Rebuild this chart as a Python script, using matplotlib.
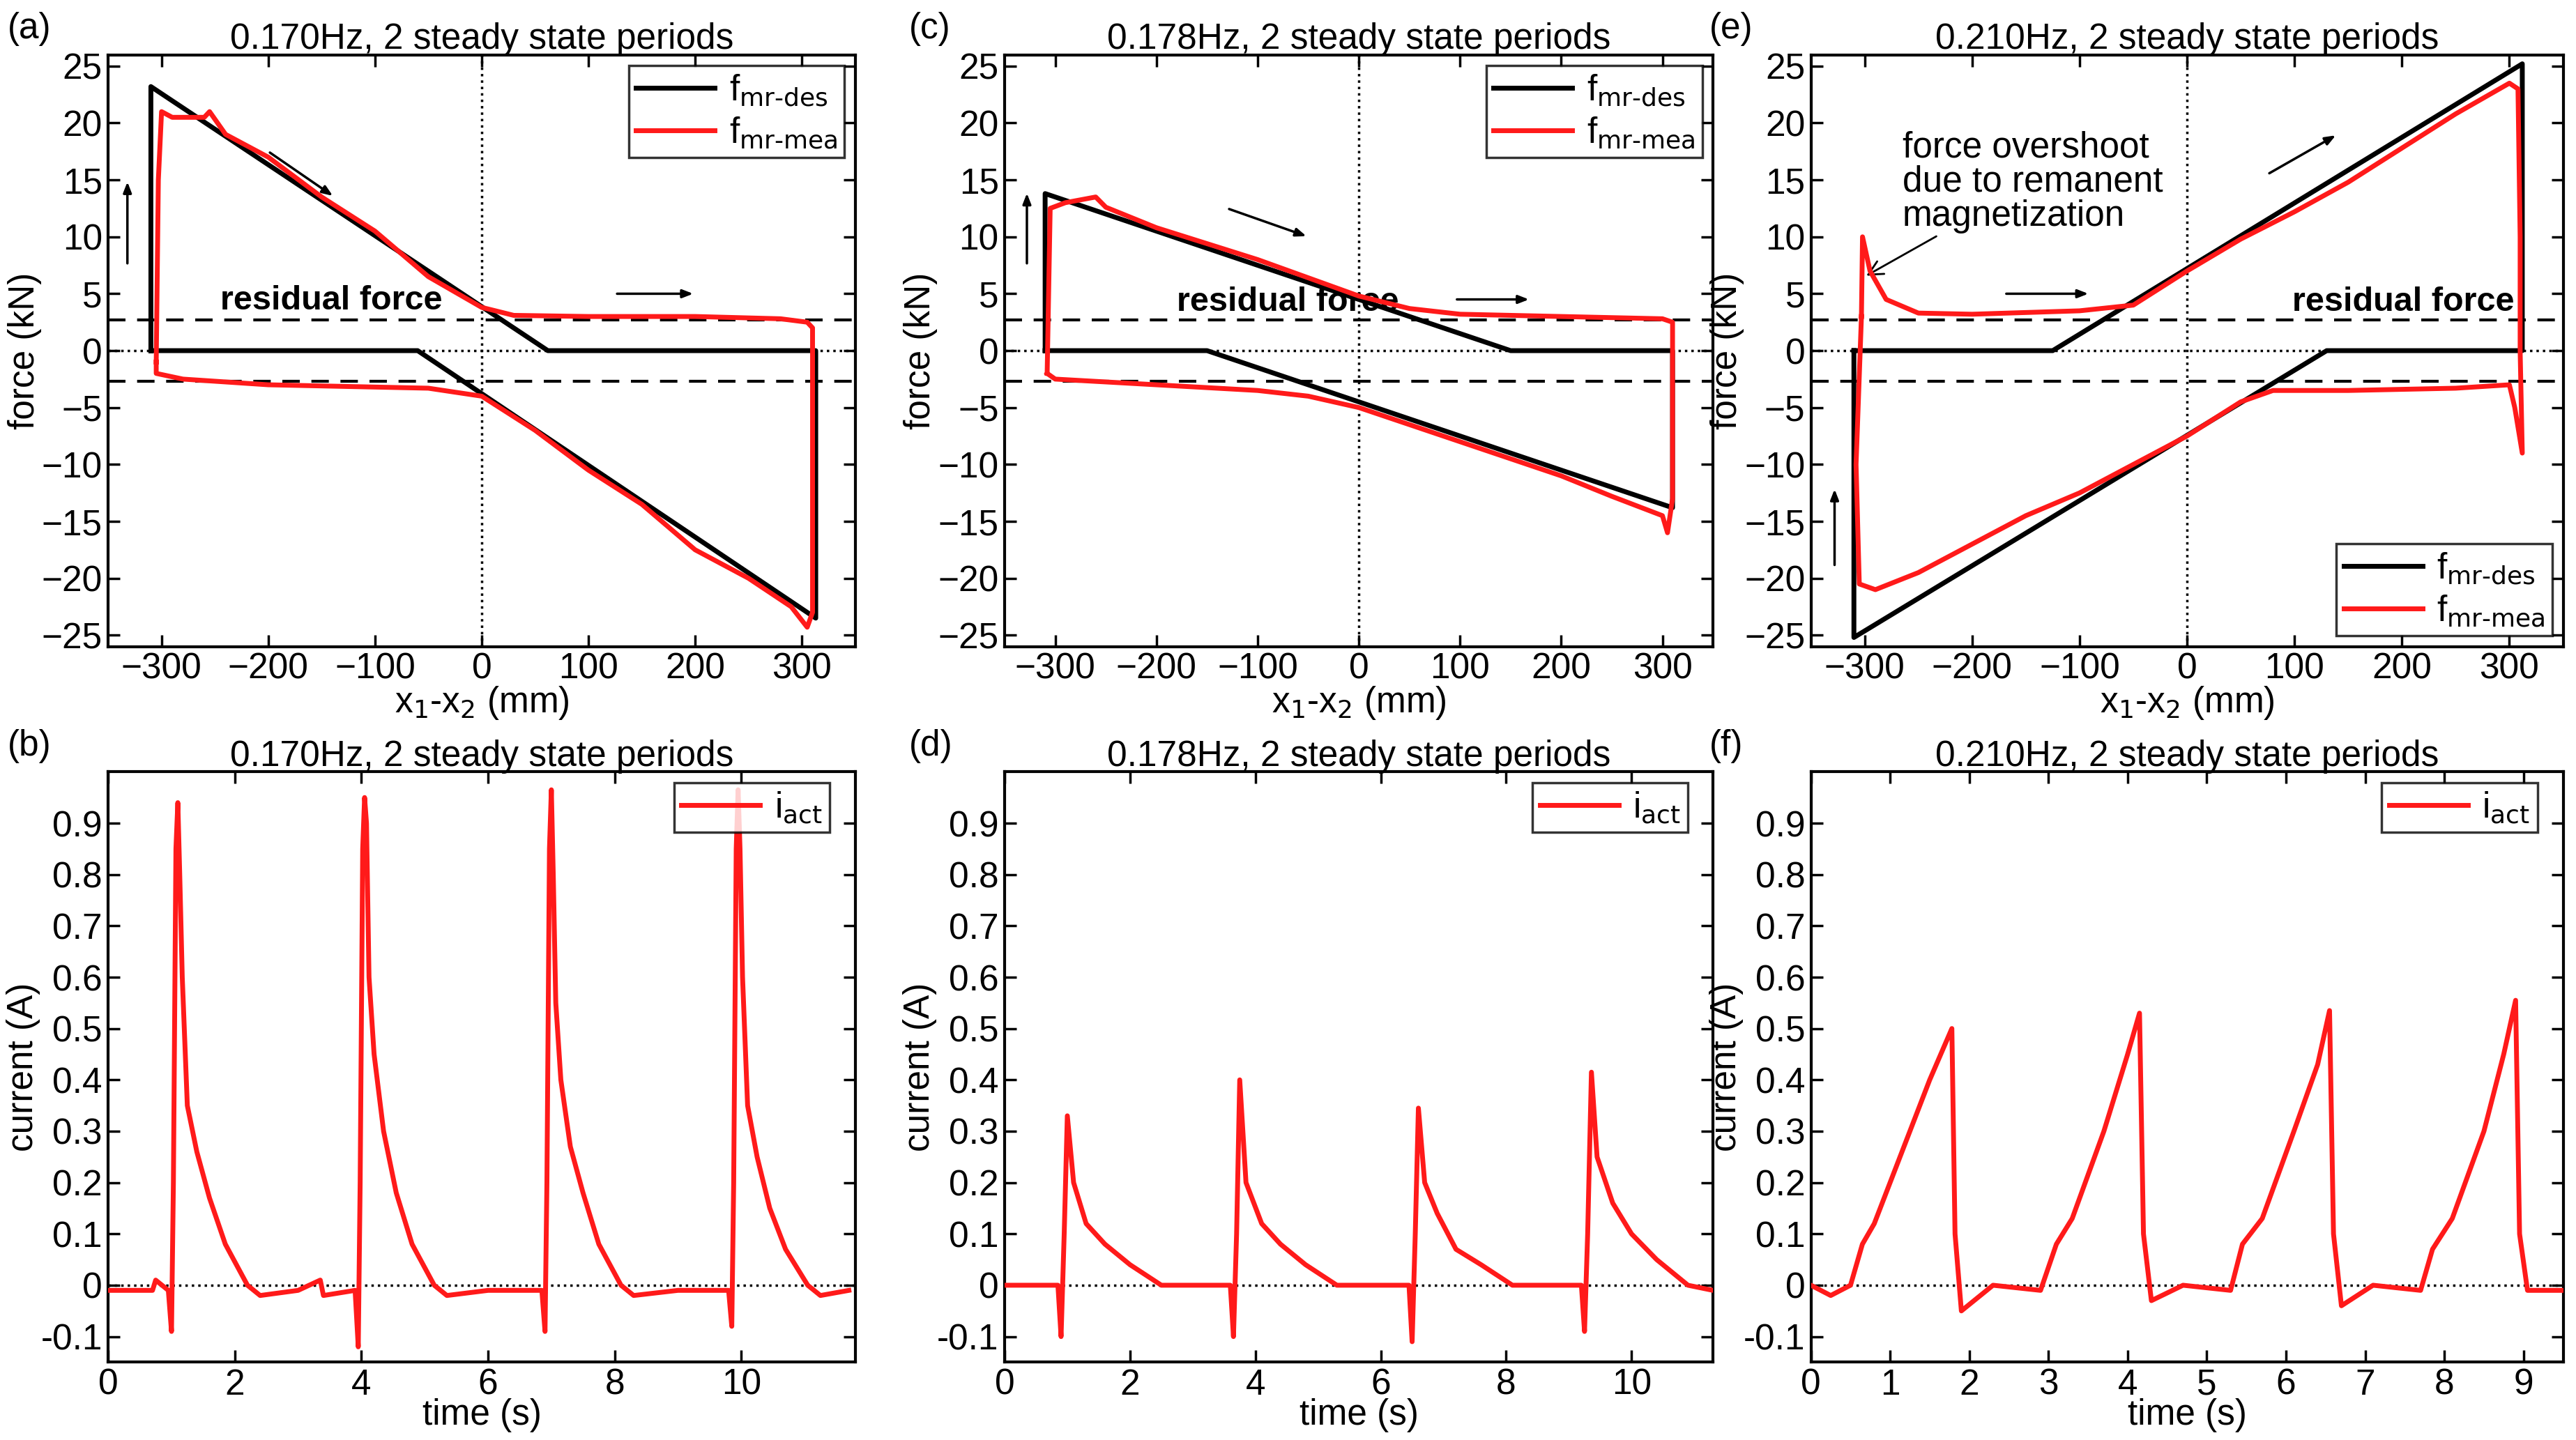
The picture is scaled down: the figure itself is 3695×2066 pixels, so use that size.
import matplotlib
matplotlib.use("Agg")
import matplotlib.pyplot as plt
import numpy as np

plt.rcParams['font.family'] = ['Liberation Sans', 'DejaVu Sans']

# ---------------- data ----------------
titles_top = ["0.170Hz, 2 steady state periods", "0.178Hz, 2 steady state periods", "0.210Hz, 2 steady state periods"]
labels_top = ["(a)", "(c)", "(e)"]
labels_bot = ["(b)", "(d)", "(f)"]

a_des_x = [-310, -310, 62, 313, 313, 313, -60, -310]
a_des_f = [0, 23.2, 0, 0, 0, -23.5, 0, 0]
a_mea_x = [-305, -303, -300, -290, -260, -255, -240, -200, -150, -100, -50, 0, 30, 100, 200, 280, 305, 310, 310, 305, 290, 250, 200, 150, 100, 50, 0, -50, -100, -200, -280, -305, -305]
a_mea_f = [-1, 15, 21, 20.5, 20.5, 21, 19, 17, 13.5, 10.5, 6.5, 3.8, 3.1, 3.0, 3.0, 2.8, 2.5, 2.0, -23, -24.3, -22.5, -20, -17.5, -13.5, -10.5, -7, -4, -3.3, -3.2, -3.0, -2.5, -2, -1]

c_des_x = [-310, -310, 150, 310, 310, -150, -310]
c_des_f = [0, 13.8, 0, 0, -13.8, 0, 0]
c_mea_x = [-308, -305, -290, -260, -250, -200, -100, 0, 50, 100, 200, 300, 310, 310, 305, 300, 250, 200, 100, 0, -50, -100, -200, -300, -308]
c_mea_f = [-2, 12.5, 13, 13.5, 12.6, 10.8, 8.0, 4.8, 3.7, 3.2, 3.0, 2.8, 2.5, -13, -16, -14.5, -12.8, -11.0, -8.0, -5, -4, -3.5, -3, -2.5, -2]

e_des_x = [-310, -125, 312, 312, 130, -310, -310]
e_des_f = [0, 0, 25.2, 0, 0, -25.2, 0]
e_mea_x = [-303, -302, -295, -280, -250, -200, -100, -50, 0, 50, 100, 150, 200, 250, 300, 308, 310, 310, 312, 305, 300, 250, 150, 80, 50, 0, -50, -100, -150, -200, -250, -290, -305, -308, -303]
e_mea_f = [3, 10, 7, 4.5, 3.3, 3.2, 3.5, 4, 7, 9.8, 12.2, 14.8, 17.8, 20.8, 23.5, 23, 10, 0, -9, -5, -3, -3.3, -3.5, -3.5, -4.5, -7.5, -10, -12.5, -14.5, -17, -19.5, -21, -20.5, -10, 3]

b_t = [0, 0.7, 0.75, 0.95, 1.0, 1.03, 1.07, 1.1, 1.13, 1.17, 1.25, 1.4, 1.6, 1.85, 2.2, 2.4, 3.0, 3.35, 3.4, 3.9, 3.95, 3.98, 4.02, 4.05, 4.08, 4.12, 4.2, 4.35, 4.55, 4.8, 5.15, 5.35, 6.0, 6.85, 6.9, 6.93, 6.97, 7.0, 7.03, 7.07, 7.15, 7.3, 7.5, 7.75, 8.1, 8.3, 9.0, 9.8, 9.85, 9.88, 9.92, 9.95, 9.98, 10.02, 10.1, 10.25, 10.45, 10.7, 11.05, 11.25, 11.7]
b_i = [-0.01, -0.01, 0.01, -0.01, -0.09, 0.2, 0.85, 0.94, 0.8, 0.6, 0.35, 0.26, 0.17, 0.08, 0.0, -0.02, -0.01, 0.01, -0.02, -0.01, -0.12, 0.2, 0.85, 0.95, 0.9, 0.6, 0.45, 0.3, 0.18, 0.08, 0.0, -0.02, -0.01, -0.01, -0.09, 0.2, 0.85, 0.965, 0.8, 0.55, 0.4, 0.27, 0.18, 0.08, 0.0, -0.02, -0.01, -0.01, -0.08, 0.2, 0.85, 0.965, 0.85, 0.6, 0.35, 0.25, 0.15, 0.07, 0.0, -0.02, -0.01]

d_t = [0, 0.85, 0.9, 0.95, 1.0, 1.1, 1.3, 1.6, 2.0, 2.5, 3.6, 3.65, 3.7, 3.75, 3.85, 4.1, 4.4, 4.8, 5.3, 6.45, 6.5, 6.55, 6.6, 6.7, 6.9, 7.2, 7.6, 8.1, 9.2, 9.25, 9.3, 9.36, 9.45, 9.7, 10.0, 10.4, 10.9, 11.3]
d_i = [0, 0, -0.1, 0.1, 0.33, 0.2, 0.12, 0.08, 0.04, 0.0, 0, -0.1, 0.1, 0.40, 0.2, 0.12, 0.08, 0.04, 0.0, 0, -0.11, 0.1, 0.345, 0.2, 0.14, 0.07, 0.04, 0.0, 0, -0.09, 0.1, 0.415, 0.25, 0.16, 0.1, 0.05, 0.0, -0.01]

f_t = [0, 0.25, 0.5, 0.65, 0.8, 1.2, 1.5, 1.78, 1.82, 1.9, 2.3, 2.9, 3.1, 3.3, 3.7, 4.0, 4.15, 4.2, 4.3, 4.7, 5.3, 5.45, 5.7, 6.1, 6.4, 6.55, 6.6, 6.7, 7.1, 7.7, 7.85, 8.1, 8.5, 8.75, 8.9, 8.95, 9.05, 9.5]
f_i = [0, -0.02, 0, 0.08, 0.12, 0.28, 0.4, 0.5, 0.1, -0.05, 0, -0.01, 0.08, 0.13, 0.3, 0.45, 0.53, 0.1, -0.03, 0, -0.01, 0.08, 0.13, 0.3, 0.43, 0.535, 0.1, -0.04, 0, -0.01, 0.07, 0.13, 0.3, 0.45, 0.555, 0.1, -0.01, -0.01]

# ---------------- figure ----------------
fig = plt.figure(figsize=(36.95, 20.66), dpi=100)
lefts = [0.042, 0.390, 0.703]
rights = [0.332, 0.665, 0.995]
FS = 37
LW = 5

top_data = [(a_des_x, a_des_f, a_mea_x, a_mea_f), (c_des_x, c_des_f, c_mea_x, c_mea_f), (e_des_x, e_des_f, e_mea_x, e_mea_f)]
bot_data = [(b_t, b_i, 11.8), (d_t, d_i, 11.3), (f_t, f_i, 9.5)]
bot_xt = [[0, 2, 4, 6, 8, 10], [0, 2, 4, 6, 8, 10], list(range(10))]

def style(ax):
    for s in ax.spines.values():
        s.set_linewidth(3)
    ax.tick_params(direction='in', length=12, width=2.5, labelsize=FS, top=True, right=True, pad=6)

for k in range(3):
    ax = fig.add_axes([lefts[k], 0.551, rights[k] - lefts[k], 0.411])
    dx, df, mx, mf = top_data[k]
    ax.plot(dx, df, color='black', lw=LW, label=r'f$_{\rm mr\text{-}des}$', zorder=3)
    ax.plot(mx, mf, color='#ff1a1a', lw=LW, label=r'f$_{\rm mr\text{-}mea}$', zorder=4)
    ax.axhline(0, color='black', ls=':', lw=2.5, zorder=2)
    ax.axvline(0, color='black', ls=':', lw=2.5, zorder=2)
    ax.axhline(2.7, color='black', ls=(0, (6, 4)), lw=3, zorder=2)
    ax.axhline(-2.7, color='black', ls=(0, (6, 4)), lw=3, zorder=2)
    ax.set_xlim(-350, 350)
    ax.set_ylim(-26, 26)
    ax.set_xticks([-300, -200, -100, 0, 100, 200, 300])
    ax.set_yticks(range(-25, 26, 5))
    style(ax)
    ax.set_xlabel(r'x$_1$-x$_2$ (mm)', fontsize=FS, labelpad=-2)
    ax.set_ylabel('force (kN)', fontsize=FS, labelpad=0)
    ax.set_title(titles_top[k], fontsize=FS, pad=6)
    ax.text(-0.135, 1.015, labels_top[k], transform=ax.transAxes, fontsize=FS, va='bottom')
    loc = 'lower right' if k == 2 else 'upper right'
    leg = ax.legend(loc=loc, fontsize=FS, handlelength=2.2, fancybox=False, edgecolor='black',
                    borderaxespad=0.3, handletextpad=0.4, borderpad=0.2, labelspacing=0.2)
    leg.get_frame().set_linewidth(2.5)
    arr = dict(arrowstyle='-|>,head_length=0.9,head_width=0.35', color='black', lw=2.5)
    RF = 35
    if k == 0:
        ax.text(-245, 3.0, 'residual force', fontsize=RF, fontweight='bold', va='bottom', ha='left')
        ax.annotate('', xy=(-332, 15), xytext=(-332, 7.5), arrowprops=arr)
        ax.annotate('', xy=(-138, 13.5), xytext=(-200, 17.5), arrowprops=arr)
        ax.annotate('', xy=(200, 5), xytext=(125, 5), arrowprops=arr)
    elif k == 1:
        ax.text(-180, 2.9, 'residual force', fontsize=RF, fontweight='bold', va='bottom', ha='left')
        ax.annotate('', xy=(-328, 14), xytext=(-328, 7.5), arrowprops=arr)
        ax.annotate('', xy=(-50, 10), xytext=(-130, 12.5), arrowprops=arr)
        ax.annotate('', xy=(170, 4.5), xytext=(95, 4.5), arrowprops=arr)
    else:
        ax.text(98, 2.9, 'residual force', fontsize=RF, fontweight='bold', va='bottom', ha='left')
        ax.annotate('', xy=(-328, -12), xytext=(-328, -19), arrowprops=arr)
        ax.annotate('', xy=(-90, 5), xytext=(-170, 5), arrowprops=arr)
        ax.annotate('', xy=(140, 19), xytext=(75, 15.5), arrowprops=arr)
        ax.annotate('force overshoot\ndue to remanent\nmagnetization', xy=(-300, 6.5), xytext=(-265, 10.3),
                    fontsize=FS, ha='left', va='bottom', linespacing=1.0,
                    arrowprops=dict(arrowstyle='->', color='black', lw=2))

for k in range(3):
    ax = fig.add_axes([lefts[k], 0.054, rights[k] - lefts[k], 0.410])
    t, i, xm = bot_data[k]
    ax.plot(t, i, color='#ff1a1a', lw=LW, label=r'i$_{\rm act}$', zorder=4)
    ax.axhline(0, color='black', ls=':', lw=2.5, zorder=2)
    ax.set_xlim(0, xm)
    ax.set_ylim(-0.15, 1.0)
    ax.set_yticks([-0.1, 0, 0.1, 0.2, 0.3, 0.4, 0.5, 0.6, 0.7, 0.8, 0.9])
    ax.set_yticklabels(['-0.1', '0', '0.1', '0.2', '0.3', '0.4', '0.5', '0.6', '0.7', '0.8', '0.9'])
    ax.set_xticks(bot_xt[k])
    style(ax)
    ax.set_xlabel('time (s)', fontsize=FS, labelpad=-4)
    ax.set_ylabel('current (A)', fontsize=FS, labelpad=0)
    ax.set_title(titles_top[k], fontsize=FS, pad=6)
    ax.text(-0.135, 1.015, labels_bot[k], transform=ax.transAxes, fontsize=FS, va='bottom')
    leg = ax.legend(loc='upper right', fontsize=FS, handlelength=2.2, fancybox=False, edgecolor='black',
                    borderaxespad=0.3, handletextpad=0.4, borderpad=0.2, bbox_to_anchor=(0.98, 1.0))
    leg.get_frame().set_linewidth(2.5)

fig.savefig('out.png', dpi=100)
